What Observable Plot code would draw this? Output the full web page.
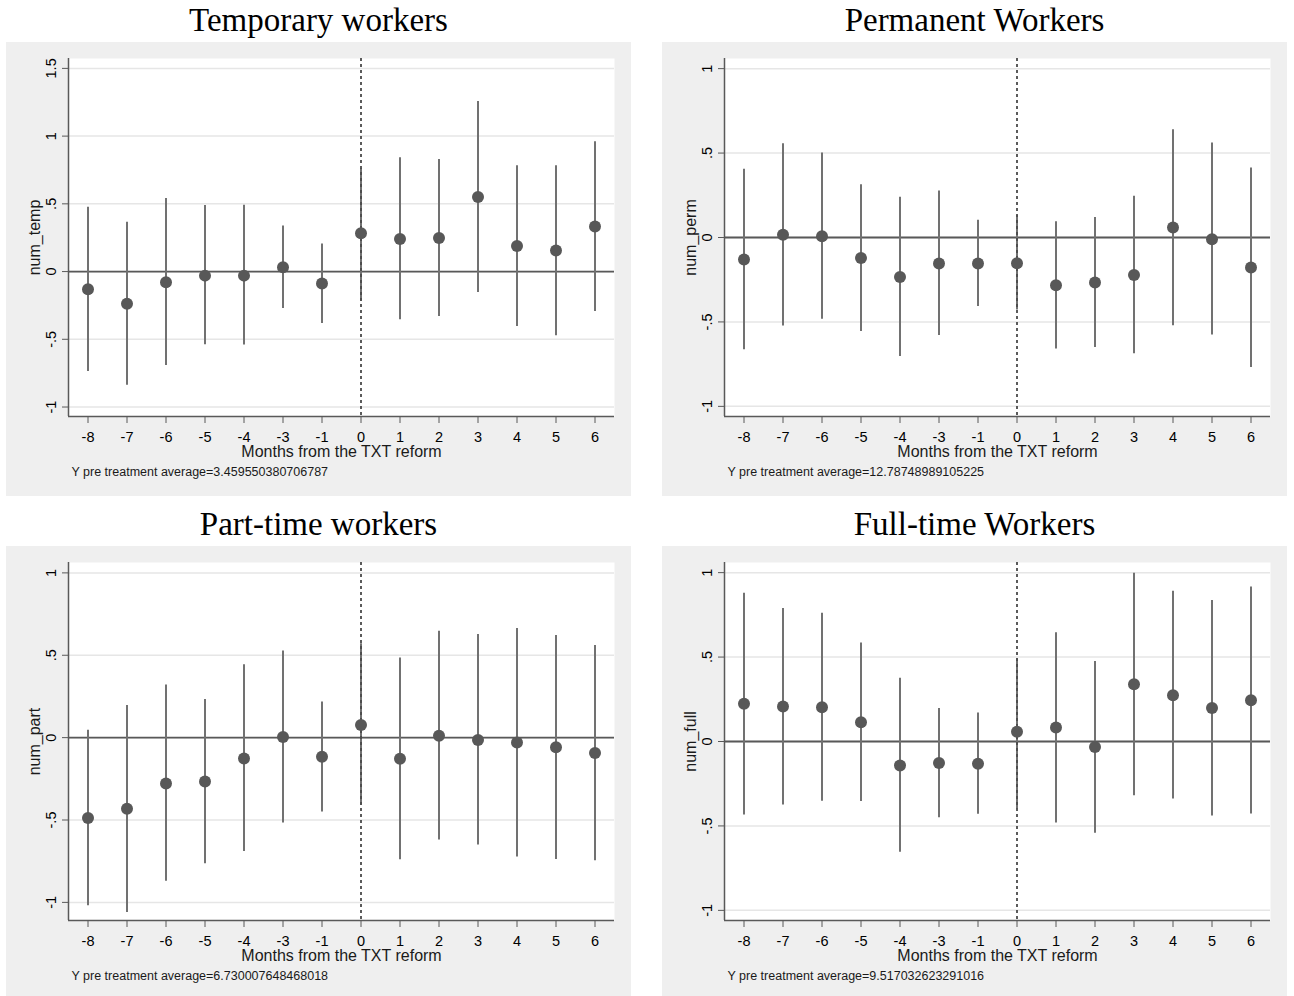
<!DOCTYPE html>
<html>
<head>
<meta charset="utf-8">
<script src="https://cdn.jsdelivr.net/npm/d3@7"></script>
<script src="https://cdn.jsdelivr.net/npm/@observablehq/plot@0.6"></script>
<style>
  html, body { margin: 0; padding: 0; background: #ffffff; overflow: hidden; }
  #root { position: relative; width: 1294px; height: 996px; }
  .title { position: absolute; width: 625px; height: 42px; line-height: 42px; text-align: center;
           font-family: "Liberation Serif", "Times New Roman", serif; font-size: 33px; color: #000; }
  .panel { position: absolute; }
</style>
</head>
<body>
<div id="root"></div>
<script>
// ---- data ----
const months = [-8, -7, -6, -5, -4, -3, -1, 0, 1, 2, 3, 4, 5, 6];
const xLabel = "Months from the TXT reform";

const titles = ["Temporary workers", "Permanent Workers", "Part-time workers", "Full-time Workers"];
const yLabels = ["num_temp", "num_perm", "num_part", "num_full"];
const notes = [
  "Y pre treatment average=3.459550380706787",
  "Y pre treatment average=12.78748989105225",
  "Y pre treatment average=6.730007648468018",
  "Y pre treatment average=9.517032623291016"
];

const tempCoef = [-0.13, -0.238, -0.079, -0.03, -0.03, 0.032, -0.088, 0.283, 0.241, 0.248, 0.55, 0.189, 0.155, 0.332];
const tempLo   = [-0.737, -0.84, -0.693, -0.54, -0.543, -0.273, -0.383, -0.22, -0.356, -0.332, -0.155, -0.405, -0.474, -0.295];
const tempHi   = [0.474, 0.364, 0.54, 0.487, 0.49, 0.337, 0.204, 0.76, 0.84, 0.828, 1.255, 0.781, 0.781, 0.958];

const permCoef = [-0.13, 0.016, 0.008, -0.122, -0.234, -0.154, -0.154, -0.152, -0.283, -0.266, -0.222, 0.059, -0.01, -0.177];
const permLo   = [-0.665, -0.524, -0.484, -0.557, -0.705, -0.581, -0.409, -0.43, -0.66, -0.652, -0.689, -0.522, -0.577, -0.77];
const permHi   = [0.404, 0.555, 0.5, 0.313, 0.238, 0.276, 0.102, 0.13, 0.094, 0.118, 0.244, 0.638, 0.559, 0.411];

const partCoef = [-0.488, -0.431, -0.278, -0.266, -0.126, 0.004, -0.116, 0.077, -0.128, 0.012, -0.014, -0.03, -0.059, -0.093];
const partLo   = [-1.02, -1.061, -0.872, -0.766, -0.691, -0.518, -0.451, -0.41, -0.742, -0.622, -0.652, -0.724, -0.74, -0.748];
const partHi   = [0.045, 0.195, 0.319, 0.232, 0.443, 0.526, 0.217, 0.57, 0.484, 0.646, 0.626, 0.663, 0.62, 0.559];

const fullCoef = [0.224, 0.207, 0.203, 0.114, -0.142, -0.128, -0.132, 0.058, 0.083, -0.033, 0.339, 0.274, 0.199, 0.244];
const fullLo   = [-0.435, -0.376, -0.354, -0.356, -0.656, -0.451, -0.431, -0.4, -0.482, -0.543, -0.321, -0.341, -0.441, -0.429];
const fullHi   = [0.878, 0.787, 0.76, 0.583, 0.374, 0.195, 0.169, 0.49, 0.644, 0.474, 0.996, 0.89, 0.835, 0.915];

const yTicksTemp = [-1, -0.5, 0, 0.5, 1, 1.5];
const yTicksOther = [-1, -0.5, 0, 0.5, 1];

const yDomains = [[-1.07, 1.573], [-1.06, 1.06], [-1.11, 1.063], [-1.06, 1.06]];

// ---- drawing ----
const stataFmt = d => d === 0 ? "0" : String(d).replace(/^(-?)0\./, "$1.");

const panels = [
  {coef: tempCoef, lo: tempLo, hi: tempHi, ticks: yTicksTemp},
  {coef: permCoef, lo: permLo, hi: permHi, ticks: yTicksOther},
  {coef: partCoef, lo: partLo, hi: partHi, ticks: yTicksOther},
  {coef: fullCoef, lo: fullLo, hi: fullHi, ticks: yTicksOther}
];

const root = document.getElementById("root");
const lefts = [6, 662];
const tops = [42, 546];

panels.forEach((p, k) => {
  const data = months.map((m, i) => ({i, m, c: p.coef[i], lo: p.lo[i], hi: p.hi[i]}));
  const idx = months.map((m, i) => i);
  const xDomain = [-0.5, months.length - 0.5];
  const yDomain = yDomains[k];
  const left = lefts[k % 2], top = tops[Math.floor(k / 2)];

  const chart = Plot.plot({
    width: 625, height: 454,
    marginLeft: 62, marginRight: 17, marginTop: 16, marginBottom: 80,
    style: {background: "#efefef", fontFamily: "'Liberation Sans', Arial, sans-serif", color: "#000", overflow: "visible"},
    x: {domain: xDomain},
    y: {domain: yDomain},
    marks: [
      Plot.frame({fill: "white", stroke: "none"}),
      Plot.gridY(p.ticks, {stroke: "#e6e6e6", strokeOpacity: 1, strokeWidth: 1.5}),
      Plot.ruleY([0], {stroke: "#595959", strokeWidth: 1.8}),
      Plot.ruleX(data, {x: "i", y1: "lo", y2: "hi", stroke: "#717171", strokeWidth: 2}),
      Plot.ruleX([months.indexOf(0)], {stroke: "#4a4a4a", strokeWidth: 1.8, strokeDasharray: "3,3"}),
      Plot.dot(data, {x: "i", y: "c", r: 6, fill: "#585858", stroke: "none"}),
      Plot.ruleX([xDomain[0]], {stroke: "#595959", strokeWidth: 1.5}),
      Plot.ruleY([yDomain[0]], {stroke: "#595959", strokeWidth: 1.5}),
      Plot.axisX(idx, {tickFormat: i => String(months[i]), tickSize: 7, tickPadding: 8, fontSize: 14.5,
                       stroke: "#595959", fill: "#000", label: null}),
      Plot.axisY(p.ticks, {tickFormat: stataFmt, tickSize: 6, tickPadding: 7, tickRotate: -90,
                           textAnchor: "middle", lineAnchor: "bottom", fontSize: 14.5,
                           stroke: "#595959", fill: "#000", label: null}),
      Plot.text([xLabel], {text: d => d, frameAnchor: "bottom", lineAnchor: "middle", dy: 35, fontSize: 16, fill: "#1a1a1a"}),
      Plot.text([yLabels[k]], {text: d => d, frameAnchor: "left", textAnchor: "middle", lineAnchor: "middle",
                               rotate: -90, dx: -34, fontSize: 16, fill: "#1a1a1a"}),
      Plot.text([notes[k]], {text: d => d, frameAnchor: "bottom-left", textAnchor: "start", lineAnchor: "middle",
                             dx: 3, dy: 55, fontSize: 12.5, fill: "#1a1a1a"})
    ]
  });

  const t = document.createElement("div");
  t.className = "title";
  t.style.left = left + "px";
  t.style.top = (top - 43) + "px";
  t.textContent = titles[k];
  root.appendChild(t);

  const wrap = document.createElement("div");
  wrap.className = "panel";
  wrap.style.left = left + "px";
  wrap.style.top = top + "px";
  wrap.appendChild(chart);
  root.appendChild(wrap);
});
</script>
</body>
</html>
